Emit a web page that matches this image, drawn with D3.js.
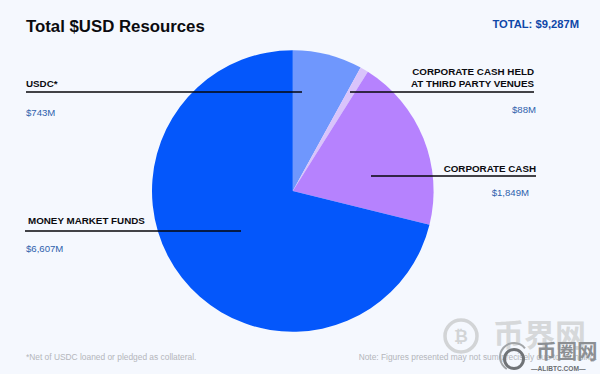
<!DOCTYPE html>
<html><head><meta charset="utf-8">
<script src="https://cdn.jsdelivr.net/npm/d3@7/dist/d3.min.js"></script>
<style>html,body{margin:0;padding:0;background:#f5f8fe}svg{display:block;font-family:"Liberation Sans",Arial,sans-serif}</style>
</head><body><svg id="c" width="600" height="374"></svg>
<script>
const categories = ["USDC*","CORPORATE CASH HELD|AT THIRD PARTY VENUES","CORPORATE CASH","MONEY MARKET FUNDS"];
const values = [743,88,1849,6607];
const valueLabels = ["$743M","$88M","$1,849M","$6,607M"];
const colors = ["#6f97fd","#d9c4fb","#b682fe","#0457fb"];
const total = "TOTAL: $9,287M";
const svg = d3.select("#c");
svg.append("rect").attr("width",600).attr("height",374).attr("fill","#f5f8fe");
const pie = d3.pie().sort(null).value(d=>d);
const arc = d3.arc().innerRadius(0).outerRadius(140.8);
svg.append("g").attr("transform","translate(292.8,191)").selectAll("path")
  .data(pie(values)).join("path").attr("d",arc).attr("fill",(d,i)=>colors[i]);
svg.append("text").attr("x",26).attr("y",32).attr("font-size",16.8).attr("font-weight",700).attr("fill","#0b0b0f").text("Total $USD Resources");
svg.append("text").attr("x",579).attr("y",28).attr("text-anchor","end").attr("font-size",11.2).attr("font-weight",700).attr("fill","#0f47a8").text(total);
const layout = [
 {x1:26,x2:302,y:92,tx:26,anchor:"start",ty:[87],vx:26,vy:116,va:"start"},
 {x1:350,x2:534,y:92,tx:534,anchor:"end",ty:[75,87],vx:536,vy:113,va:"end"},
 {x1:371,x2:536,y:176,tx:536,anchor:"end",ty:[172],vx:529,vy:196,va:"end"},
 {x1:25,x2:241,y:231,tx:28,anchor:"start",ty:[224],vx:26,vy:252,va:"start"}
];
layout.forEach((l,i)=>{
  svg.append("line").attr("x1",l.x1).attr("x2",l.x2).attr("y1",l.y).attr("y2",l.y).attr("stroke","#06060a").attr("stroke-width",1.3);
  categories[i].split("|").forEach((t,j)=>{
    svg.append("text").attr("x",l.tx).attr("y",l.ty[j]).attr("text-anchor",l.anchor).attr("font-size",9.8).attr("font-weight",700).attr("fill","#0b0b0f").text(t);
  });
  svg.append("text").attr("x",l.vx).attr("y",l.vy).attr("text-anchor",l.va).attr("font-size",9.6).attr("fill","#2f62ad").text(valueLabels[i]);
});
svg.append("text").attr("x",26).attr("y",360).attr("font-size",8.4).attr("fill","#b4b6bb").text("*Net of USDC loaned or pledged as collateral.");
// watermark
const wm = svg.append("g");
wm.append("circle").attr("cx",461).attr("cy",336).attr("r",16).attr("fill","none").attr("stroke","#d2d4d6").attr("stroke-width",3.5);
wm.append("text").attr("x",461).attr("y",342).attr("text-anchor","middle").attr("font-size",17).attr("font-weight",700).attr("fill","#d2d4d6").text("₿");
wm.append("text").attr("x",493).attr("y",346).attr("font-family","Noto Sans CJK SC").attr("font-size",31).attr("font-weight",700).attr("fill","#d6d8da").text("币界网");
svg.append("text").attr("x",597).attr("y",360).attr("text-anchor","end").attr("font-size",8.4).attr("fill","#b4b6bb").text("Note: Figures presented may not sum precisely due to rounding.");
const wm2 = svg.append("g");
wm2.append("circle").attr("cx",514).attr("cy",359).attr("r",9.5).attr("fill","none").attr("stroke","#707377").attr("stroke-width",3);
wm2.append("path").attr("transform","translate(514,357)").attr("d",d3.arc().innerRadius(13).outerRadius(15).startAngle(-2.6).endAngle(0.9)()).attr("fill","#a2a5a8");
wm2.append("text").attr("x",536).attr("y",359).attr("font-family","Noto Sans CJK SC").attr("font-size",20.5).attr("font-weight",700).attr("fill","#8c8f93").text("币圈网");
wm2.append("text").attr("x",531).attr("y",371).attr("font-size",6.6).attr("font-weight",700).attr("fill","#6a6d71").text("—ALIBTC.COM—");
</script></body></html>
